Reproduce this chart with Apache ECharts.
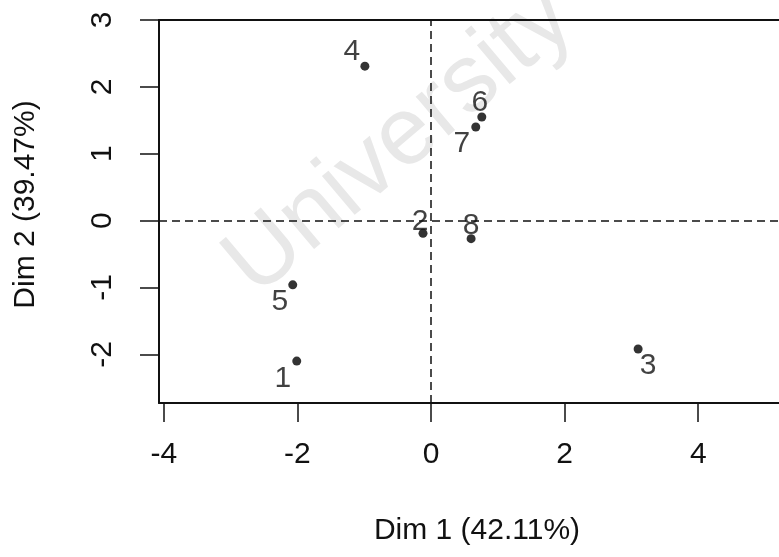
<!DOCTYPE html>
<html>
<head>
<meta charset="utf-8">
<script src="https://cdn.jsdelivr.net/npm/echarts@6/dist/echarts.min.js"></script>
<style>
html, body { margin: 0; padding: 0; background: #fff; }
#chart { width: 779px; height: 557px; }
</style>
</head>
<body>
<div id="chart"></div>
<script>
// individuals factor map (PCA), Dim 1 vs Dim 2
const pointNames = ['1', '2', '3', '4', '5', '6', '7', '8'];
const dim1 = [-2.01, -0.12, 3.10, -0.99, -2.07, 0.76, 0.67, 0.60];
const dim2 = [-2.10, -0.19, -1.92, 2.31, -0.96, 1.55, 1.40, -0.27];
const xTicks = [-4, -2, 0, 2, 4];
const yTicks = [-2, -1, 0, 1, 2, 3];
const xTitle = 'Dim 1 (42.11%)';
const yTitle = 'Dim 2 (39.47%)';
const watermark = 'University';

// where each number sits relative to its dot (px)
const labelOffset = {
  '1': [-14, 18],
  '2': [-3, -12],
  '3': [10, 17],
  '4': [-13, -14],
  '5': [-13, 17],
  '6': [-2, -14],
  '7': [-14, 17],
  '8': [0, -13],
};

const FONT = '"Liberation Sans", Arial, sans-serif';
const INK = '#111';
const FS = 30;

const chart = echarts.init(document.getElementById('chart'));

const points = pointNames.map((name, i) => ({
  name: name,
  value: [dim1[i], dim2[i]],
  label: { offset: labelOffset[name] },
}));

const X_MIN = -4.072, X_MAX = 5.209;
const Y_MIN = -2.727, Y_MAX = 3.0;

const option = {
  animation: false,
  backgroundColor: '#fff',
  grid: {
    left: 159,
    top: 20,
    right: 0,
    bottom: 154,
  },
  xAxis: [
    {
      type: 'value',
      position: 'bottom',
      min: X_MIN,
      max: X_MAX,
      splitLine: { show: false },
      axisLine: { show: true, onZero: false, lineStyle: { color: INK, width: 2 } },
      axisTick: {
        show: true,
        length: 19,
        customValues: xTicks,
        lineStyle: { color: INK, width: 1.5 },
      },
      axisLabel: {
        customValues: xTicks,
        margin: 37,
        color: INK,
        fontSize: FS,
        fontFamily: FONT,
      },
      name: xTitle,
      nameLocation: 'middle',
      nameGap: 113,
      nameTextStyle: { color: INK, fontSize: FS, fontFamily: FONT, padding: [0, 0, 0, 16] },
    },
    {
      // top side of the box
      type: 'value',
      position: 'top',
      min: X_MIN,
      max: X_MAX,
      splitLine: { show: false },
      axisLine: { show: true, onZero: false, lineStyle: { color: INK, width: 2 } },
      axisTick: { show: false },
      axisLabel: { show: false },
    },
  ],
  yAxis: {
    type: 'value',
    min: Y_MIN,
    max: Y_MAX,
    splitLine: { show: false },
    axisLine: { show: true, onZero: false, lineStyle: { color: INK, width: 2 } },
    axisTick: {
      show: true,
      length: 19,
      customValues: yTicks,
      lineStyle: { color: INK, width: 1.5 },
    },
    axisLabel: {
      customValues: yTicks,
      rotate: 90,
      margin: 41,
      color: INK,
      fontSize: FS,
      fontFamily: FONT,
    },
    name: yTitle,
    nameLocation: 'middle',
    nameGap: 118,
    nameRotate: 90,
    nameTextStyle: { color: INK, fontSize: FS, fontFamily: FONT, padding: [0, 0, 0, 14] },
  },
  graphic: [
    {
      type: 'text',
      x: 400,
      y: 142,
      rotation: 0.7,
      z: -1,
      style: {
        text: watermark,
        fontSize: 96,
        fontFamily: FONT,
        fill: '#e8e8e8',
        align: 'center',
        verticalAlign: 'middle',
      },
    },
  ],
  series: [
    {
      type: 'scatter',
      symbol: 'circle',
      symbolSize: 9,
      itemStyle: { color: '#000' },
      label: {
        show: true,
        position: 'inside',
        formatter: '{b}',
        color: INK,
        fontSize: FS,
        fontFamily: FONT,
      },
      data: points,
      markLine: {
        silent: true,
        symbol: 'none',
        label: { show: false },
        lineStyle: { color: INK, type: [8, 5], width: 1.5 },
        data: [{ xAxis: 0 }, { yAxis: 0 }],
      },
    },
  ],
};

chart.setOption(option);
</script>
</body>
</html>
